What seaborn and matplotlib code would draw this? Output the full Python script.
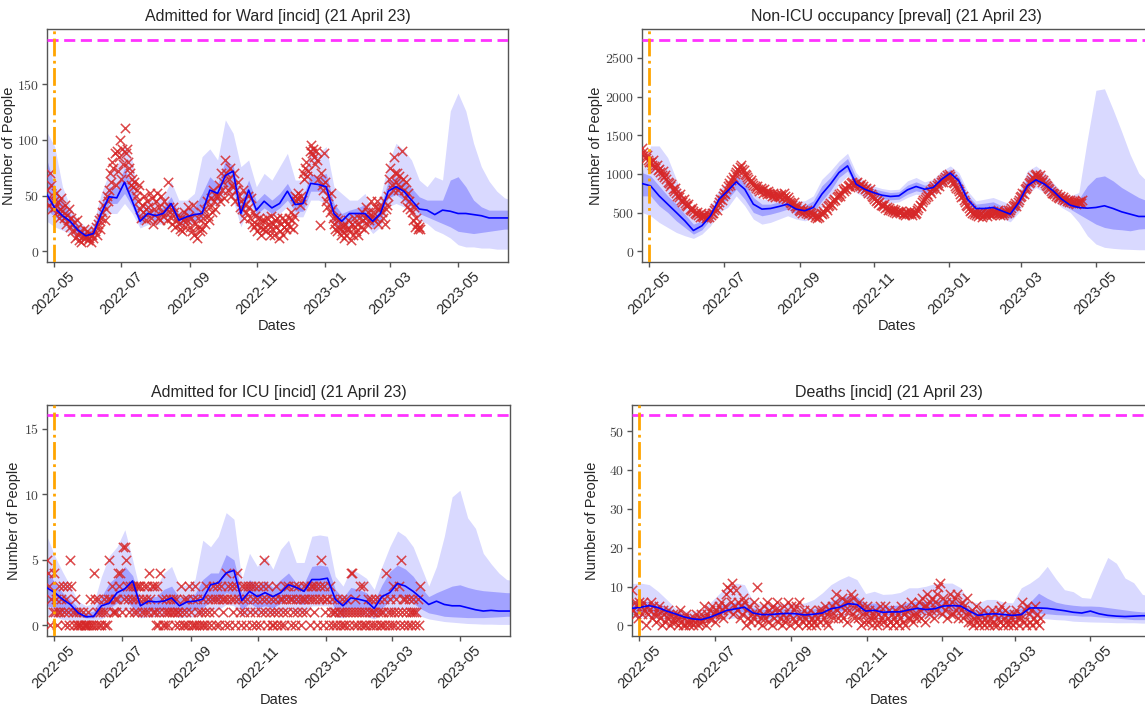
"""
住院预测图 - 四个指标的观测值与模型中位数/置信区间
"""

import numpy as np
import pandas as pd
import matplotlib
matplotlib.use("Agg")
import matplotlib.pyplot as plt
import matplotlib.dates as mdates
import matplotlib.ticker as mticker
import seaborn as sns

# ---------------- 数据 ----------------
BAND_START = "2022-04-25"   # 每周一个点
OBS_START = "2022-04-25"    # 每天一个观测
FORECAST_LINE = "2022-05-01"
X_END = "2023-06-15"

# Admitted for Ward
ward_obs = [
    55, 48, 42, 70, 60, 38, 45,  40, 52, 35, 44, 30, 38, 48,
    36, 30, 42, 25, 33, 28, 38,  22, 30, 18, 26, 12, 20, 28,
    15, 10, 18, 8, 13, 20, 12,  14, 18, 10, 12, 16, 8, 15,
    12, 18, 22, 15, 25, 28, 20,  30, 35, 42, 28, 38, 50, 45,
    55, 70, 62, 80, 75, 88, 60,  90, 72, 85, 100, 65, 92, 78,
    111, 88, 92, 80, 75, 70, 60,  65, 58, 62, 50, 55, 45, 60,
    38, 30, 42, 35, 50, 28, 45,  40, 35, 52, 30, 48, 25, 38,
    45, 52, 30, 40, 28, 50, 35,  32, 45, 38, 28, 62, 40, 35,
    30, 25, 40, 35, 22, 28, 33,  25, 20, 30, 18, 28, 35, 22,
    28, 40, 32, 22, 30, 18, 42,  15, 25, 12, 30, 22, 18, 35,
    20, 30, 38, 25, 45, 32, 28,  40, 48, 35, 55, 45, 38, 50,
    50, 60, 45, 70, 55, 62, 48,  82, 70, 55, 65, 75, 50, 60,
    58, 70, 45, 55, 62, 50, 40,  45, 38, 55, 30, 42, 35, 50,
    40, 30, 48, 25, 35, 22, 32,  25, 18, 30, 22, 15, 28, 20,
    28, 22, 18, 30, 25, 15, 32,  20, 25, 15, 28, 22, 30, 12,
    18, 25, 30, 15, 22, 28, 20,  25, 30, 22, 35, 28, 20, 32,
    50, 45, 48, 52, 42, 50, 46,  70, 65, 75, 80, 68, 72, 90,
    95, 88, 92, 85, 78, 90, 82,  65, 24, 70, 60, 55, 88, 62,
    45, 40, 50, 35, 52, 38, 30,  25, 20, 30, 18, 28, 22, 15,
    18, 22, 12, 25, 15, 20, 28,  20, 10, 25, 15, 30, 22, 18,
    25, 15, 30, 22, 35, 28, 20,  30, 40, 25, 35, 28, 45, 32,
    35, 28, 40, 30, 45, 25, 38,  40, 35, 30, 45, 25, 38, 42,
    50, 65, 75, 60, 55, 85, 70,  62, 70, 55, 68, 58, 90, 65,
    55, 48, 62, 40, 52, 45, 38,  35, 28, 40, 22, 30, 25, 20,
    22, 20,
]
ward_med = [51, 39, 32, 27, 19, 14, 16, 34, 49, 48,
            62, 45, 27, 34, 32, 34, 43, 28, 31, 33,
            34, 55, 52, 68, 72, 34, 55, 37, 45, 39,
            43, 54, 42, 43, 61, 60, 58, 34, 27, 34,
            34, 34, 27, 34, 54, 58, 54, 46, 38, 37,
            33, 37, 36, 34, 34, 33, 32, 30, 30, 30, 30]
ward_hi95 = [107, 94, 58, 40, 28, 22, 25, 52, 70, 76,
             97, 82, 40, 46, 46, 49, 63, 46, 46, 52,
             85, 92, 82, 118, 106, 76, 82, 58, 70, 64,
             76, 88, 64, 64, 94, 88, 94, 58, 52, 46,
             46, 52, 37, 49, 79, 97, 91, 82, 64, 58,
             67, 64, 126, 142, 126, 97, 76, 63, 54, 48, 46]
ward_lo95 = [27, 22, 19, 16, 11, 9, 10, 25, 34, 34,
             43, 34, 21, 24, 24, 25, 31, 22, 24, 25,
             28, 43, 40, 52, 46, 22, 40, 28, 33, 31,
             34, 40, 31, 31, 46, 46, 43, 22, 16, 22,
             24, 25, 16, 22, 40, 43, 40, 34, 28, 25,
             19, 16, 12, 6, 4, 4, 3, 3, 2, 2, 2]
ward_hi50 = [82, 58, 46, 33, 24, 18, 21, 42, 58, 57,
             75, 58, 33, 39, 37, 40, 49, 34, 38, 40,
             52, 67, 60, 82, 77, 46, 64, 45, 52, 46,
             52, 61, 48, 48, 70, 67, 70, 43, 34, 37,
             39, 42, 31, 40, 63, 67, 63, 57, 49, 46,
             46, 46, 64, 67, 58, 46, 40, 37, 37, 37, 37]
ward_lo50 = [37, 31, 27, 22, 15, 12, 13, 30, 43, 43,
             52, 40, 24, 30, 28, 30, 36, 25, 27, 28,
             30, 46, 46, 58, 57, 30, 49, 33, 39, 34,
             39, 46, 36, 36, 54, 54, 52, 28, 21, 28,
             30, 31, 21, 28, 48, 51, 46, 40, 34, 31,
             28, 25, 22, 18, 17, 16, 17, 18, 19, 20, 20]

# Non-ICU occupancy
occ_obs = [
    1330, 1280, 1240, 1200, 1250, 1180, 1160,  1150, 1120, 1180, 1100, 1080, 1120, 1050,
    1060, 1020, 990, 1040, 960, 980, 930,  900, 880, 840, 870, 800, 780, 820,
    760, 720, 700, 740, 660, 640, 680,  620, 600, 580, 610, 550, 530, 560,
    520, 500, 480, 510, 470, 450, 490,  460, 440, 470, 430, 450, 480, 440,
    470, 500, 490, 530, 560, 540, 600,  640, 680, 660, 720, 760, 740, 800,
    840, 880, 860, 920, 960, 940, 1000,  1020, 1060, 1040, 1090, 1110, 1070, 1050,
    1000, 980, 960, 930, 900, 920, 880,  860, 840, 820, 850, 800, 780, 820,
    790, 760, 800, 770, 740, 780, 750,  740, 720, 760, 730, 700, 740, 710,
    720, 700, 740, 690, 760, 720, 680,  700, 660, 640, 620, 600, 640, 580,
    560, 580, 540, 520, 560, 500, 530,  520, 500, 540, 480, 510, 490, 470,
    480, 450, 470, 430, 460, 440, 500,  480, 520, 500, 560, 540, 580, 600,
    620, 600, 650, 680, 660, 700, 720,  740, 720, 760, 800, 780, 820, 800,
    840, 860, 830, 880, 900, 870, 850,  880, 900, 860, 840, 870, 820, 850,
    800, 820, 780, 760, 800, 740, 720,  700, 680, 650, 660, 620, 640, 600,
    600, 580, 610, 560, 570, 540, 560,  540, 520, 550, 510, 530, 500, 520,
    510, 490, 520, 480, 500, 470, 510,  500, 480, 520, 490, 470, 510, 480,
    500, 530, 560, 600, 580, 640, 660,  680, 700, 740, 720, 780, 760, 800,
    820, 840, 800, 860, 880, 850, 900,  920, 900, 940, 960, 980, 950, 1000,
    970, 940, 900, 880, 850, 820, 800,  780, 740, 700, 720, 660, 640, 600,
    580, 560, 520, 540, 500, 480, 510,  470, 490, 460, 480, 500, 450, 470,
    480, 500, 460, 490, 510, 470, 500,  520, 490, 510, 480, 530, 500, 470,
    490, 470, 500, 520, 490, 530, 510,  540, 560, 580, 600, 620, 590, 640,
    660, 700, 720, 760, 740, 800, 820,  840, 880, 900, 920, 960, 940, 980,
    1000, 970, 950, 980, 930, 900, 920,  880, 860, 840, 820, 800, 780, 760,
    760, 740, 720, 740, 700, 690, 710,  680, 700, 660, 680, 650, 670, 640,
    660, 640, 620, 650, 630, 610, 640,  620, 650, 630, 660,
]
occ_med = [876, 846, 717, 610, 503, 395, 270, 331, 460, 674,
           782, 898, 803, 610, 546, 554, 580, 610, 546, 524,
           567, 739, 868, 1018, 1104, 868, 803, 760, 726, 709,
           717, 795, 838, 803, 825, 932, 1010, 911, 674, 554,
           554, 567, 524, 481, 632, 846, 924, 868, 782, 674,
           597, 567, 558, 567, 589, 554, 511, 481, 451, 451, 451]
occ_hi95 = [1018, 1362, 1362, 1211, 932, 653, 460, 481, 589, 803,
            889, 1040, 954, 760, 674, 674, 696, 696, 653, 653,
            717, 932, 1040, 1169, 1267, 1018, 889, 846, 812, 795,
            803, 911, 954, 898, 932, 1040, 1104, 1018, 782, 653,
            674, 696, 653, 610, 760, 1040, 1104, 1018, 889, 769,
            717, 760, 1448, 2080, 2100, 1834, 1550, 1250, 1010, 900, 850]
occ_lo95 = [503, 460, 374, 309, 245, 202, 168, 223, 331, 503,
            567, 717, 589, 417, 352, 374, 417, 460, 417, 395,
            425, 567, 696, 868, 975, 760, 696, 674, 640, 623,
            640, 696, 739, 717, 739, 825, 911, 782, 567, 460,
            468, 468, 425, 382, 503, 739, 825, 760, 674, 567,
            503, 374, 202, 95, 52, 39, 30, 26, 21, 21, 21]
occ_hi50 = [1018, 975, 846, 717, 610, 481, 352, 395, 503, 739,
            825, 975, 889, 696, 610, 610, 640, 653, 610, 589,
            653, 846, 954, 1104, 1199, 954, 855, 812, 782, 760,
            769, 855, 898, 855, 889, 997, 1061, 967, 726, 610,
            623, 640, 589, 554, 709, 954, 1018, 954, 846, 717,
            662, 674, 846, 954, 975, 911, 825, 760, 696, 653, 653]
occ_lo50 = [717, 717, 589, 503, 395, 309, 223, 279, 417, 610,
            674, 803, 674, 503, 460, 481, 511, 546, 481, 468,
            503, 653, 782, 954, 1040, 825, 760, 717, 683, 666,
            674, 739, 782, 760, 769, 868, 954, 846, 623, 503,
            511, 520, 468, 425, 567, 803, 889, 825, 726, 623,
            546, 481, 417, 352, 309, 288, 279, 266, 288, 296, 296]

# Admitted for ICU
icu_obs = [
    5, 4, 3, 0, 2, 1, 4,  1, 2, 0, 1, 3, 1, 2,  3, 1, 0, 2, 3, 1, 0,
    5, 3, 1, 0, 2, 1, 0,  0, 1, 0, 0, 1, 0, 0,  0, 0, 1, 0, 2, 0, 0,
    4, 2, 0, 1, 2, 0, 1,  0, 1, 2, 0, 1, 0, 2,  5, 2, 3, 1, 1, 2, 1,
    2, 4, 3, 4, 1, 6, 2,  6, 5, 3, 2, 1, 3, 2,  3, 1, 2, 3, 1, 3, 2,
    3, 1, 2, 3, 1, 2, 3,  1, 4, 2, 3, 1, 3, 1,  0, 3, 0, 1, 4, 2, 0,
    1, 0, 2, 1, 0, 1, 2,  1, 2, 1, 0, 2, 1, 1,  0, 3, 1, 0, 2, 0, 1,
    2, 0, 3, 1, 0, 2, 0,  3, 0, 2, 1, 0, 1, 0,  2, 0, 1, 3, 0, 2, 1,
    0, 2, 3, 1, 2, 0, 3,  2, 0, 3, 2, 1, 2, 0,  4, 2, 3, 0, 2, 3, 1,
    2, 0, 3, 4, 2, 1, 0,  3, 2, 1, 3, 0, 2, 3,  1, 3, 0, 2, 3, 1, 0,
    2, 3, 0, 1, 2, 3, 5,  1, 2, 0, 3, 1, 2, 0,  0, 1, 2, 3, 0, 1, 2,
    0, 2, 1, 0, 3, 2, 1,  3, 2, 0, 2, 1, 3, 0,  2, 1, 3, 2, 0, 1, 2,
    3, 2, 1, 3, 2, 0, 3,  2, 3, 1, 2, 3, 0, 2,  3, 5, 2, 0, 3, 1, 2,
    2, 0, 3, 1, 2, 0, 1,  1, 0, 2, 1, 0, 1, 2,  0, 1, 0, 2, 1, 0, 1,
    4, 4, 1, 0, 2, 1, 0,  1, 3, 0, 1, 3, 0, 1,  0, 2, 1, 0, 2, 1, 0,
    1, 2, 0, 1, 2, 0, 1,  0, 1, 2, 0, 4, 1, 0,  2, 1, 0, 3, 1, 0, 2,
    1, 3, 0, 5, 1, 2, 0,  2, 1, 0, 2, 1, 0, 1,  2, 1, 0, 1, 2, 0, 3,
]
icu_med = [2.87, 2.5, 2.0, 1.6, 0.96, 0.66, 0.7, 1.5, 1.7, 2.5,
           2.8, 3.4, 1.5, 1.85, 1.8, 1.85, 2.1, 1.5, 1.8, 1.85,
           2.0, 3.1, 3.25, 4.0, 4.2, 1.9, 2.6, 2.2, 2.5, 2.2,
           2.5, 3.1, 2.9, 2.6, 3.5, 3.5, 3.6, 2.0, 1.5, 2.1,
           2.0, 1.85, 1.3, 2.2, 2.5, 3.2, 3.0, 2.6, 2.1, 1.6,
           1.85, 1.6, 1.5, 1.5, 1.35, 1.2, 1.1, 1.15, 1.1, 1.1, 1.1]
icu_hi95 = [6.8, 5.3, 4.1, 3.0, 1.85, 1.5, 1.7, 3.75, 5.3, 6.0,
            7.3, 5.0, 2.5, 3.0, 2.9, 4.0, 4.5, 3.0, 3.1, 3.5,
            6.5, 6.0, 6.8, 8.6, 8.1, 3.5, 5.5, 4.5, 5.3, 4.3,
            5.8, 6.5, 4.8, 4.8, 6.8, 6.9, 6.8, 3.75, 3.0, 4.3,
            4.0, 3.6, 2.75, 4.5, 6.0, 7.2, 6.8, 6.0, 4.5, 3.0,
            4.5, 6.8, 9.8, 10.3, 8.2, 7.4, 5.5, 4.7, 4.0, 3.5, 3.4]
icu_lo95 = [0.7, 0.66, 0.46, 0.4, 0.4, 0.4, 0.4, 0.5, 0.84, 0.96,
            1.2, 0.84, 0.58, 0.66, 0.66, 0.7, 0.84, 0.58, 0.66, 0.66,
            0.84, 1.2, 1.2, 1.6, 1.5, 0.7, 0.96, 0.84, 0.96, 0.84,
            0.96, 1.2, 0.96, 0.96, 1.5, 1.5, 1.5, 0.66, 0.58, 0.84,
            0.76, 0.7, 0.5, 0.84, 1.1, 1.27, 1.2, 0.96, 0.7, 0.5,
            0.4, 0.3, 0.25, 0.2, 0.15, 0.13, 0.1, 0.1, 0.08, 0.08, 0.08]
icu_hi50 = [4.3, 3.25, 2.5, 2.0, 1.35, 0.96, 1.1, 2.2, 3.25, 3.75,
            4.5, 3.8, 1.85, 2.2, 2.2, 2.75, 3.0, 2.1, 2.3, 2.4,
            3.5, 4.0, 4.0, 5.4, 5.0, 2.5, 3.5, 3.0, 3.4, 2.9,
            3.5, 4.0, 3.25, 3.2, 4.5, 4.6, 4.5, 2.75, 2.1, 2.9,
            2.75, 2.5, 1.85, 3.1, 4.1, 4.6, 4.3, 3.75, 2.9, 2.2,
            2.5, 2.75, 3.0, 3.1, 2.9, 2.75, 2.65, 2.6, 2.55, 2.5, 2.5]
icu_lo50 = [1.5, 1.35, 0.96, 0.84, 0.7, 0.58, 0.58, 0.96, 1.35, 1.7,
            2.0, 1.35, 0.96, 1.1, 1.1, 1.2, 1.27, 1.0, 1.1, 1.17,
            1.35, 1.85, 1.85, 2.5, 2.3, 1.2, 1.7, 1.35, 1.5, 1.35,
            1.7, 2.0, 1.7, 1.6, 2.2, 2.3, 2.4, 1.2, 0.96, 1.35,
            1.27, 1.17, 0.84, 1.35, 1.85, 2.2, 2.1, 1.7, 1.27, 0.96,
            0.84, 0.7, 0.66, 0.63, 0.6, 0.6, 0.6, 0.63, 0.66, 0.7, 0.7]

# Deaths
death_obs = [
    9, 4, 6, 3, 5, 2, 6,  5, 3, 6, 4, 0, 5, 3,  4, 6, 2, 5, 3, 1, 4,
    3, 5, 2, 0, 4, 3, 1,  2, 4, 3, 0, 1, 3, 2,  1, 3, 0, 2, 4, 1, 0,
    2, 0, 3, 1, 0, 2, 1,  0, 2, 1, 3, 0, 1, 2,  3, 1, 5, 2, 0, 3, 2,
    4, 2, 5, 3, 1, 4, 3,  5, 3, 6, 4, 2, 5, 8,  10, 4, 9, 6, 11, 3, 5,
    9, 4, 6, 2, 5, 3, 7,  6, 0, 4, 2, 5, 1, 3,  2, 6, 3, 10, 1, 4, 2,
    0, 3, 5, 2, 6, 1, 4,  3, 0, 5, 2, 4, 6, 1,  4, 2, 0, 3, 5, 1, 2,
    6, 3, 0, 5, 2, 4, 1,  5, 0, 6, 2, 3, 1, 4,  2, 0, 3, 1, 4, 0, 2,
    1, 3, 0, 2, 4, 1, 3,  4, 2, 5, 1, 3, 0, 4,  3, 5, 2, 6, 8, 4, 2,
    5, 3, 7, 2, 4, 6, 1,  6, 4, 8, 3, 7, 2, 5,  4, 2, 6, 0, 5, 3, 1,
    3, 5, 1, 4, 2, 0, 3,  2, 4, 0, 3, 1, 5, 2,  1, 3, 5, 0, 2, 4, 1,
    3, 0, 2, 4, 1, 3, 0,  2, 5, 1, 3, 0, 4, 2,  4, 2, 6, 1, 3, 5, 2,
    3, 6, 4, 2, 7, 5, 1,  5, 8, 3, 6, 4, 7, 2,  6, 4, 8, 10, 11, 5, 3,
    7, 4, 6, 2, 5, 8, 3,  6, 3, 7, 4, 8, 2, 5,  4, 6, 2, 5, 3, 7, 1,
    3, 1, 4, 0, 2, 5, 1,  2, 0, 3, 1, 4, 0, 2,  1, 3, 0, 2, 4, 1, 0,
    3, 0, 2, 4, 1, 5, 0,  2, 4, 1, 0, 3, 1, 2,  0, 3, 1, 4, 2, 0, 3,
    2, 6, 1, 4, 0, 5, 3,  1, 4, 0, 2, 5, 1, 3,  0, 2,
]
death_med = [4.4, 4.7, 5.1, 4.6, 3.7, 3.0, 2.2, 1.7, 1.5, 2.1,
             3.0, 3.9, 4.3, 4.7, 3.2, 2.8, 2.8, 3.0, 3.1, 3.0,
             2.7, 2.9, 3.2, 4.3, 4.7, 5.6, 5.4, 3.7, 3.9, 3.4,
             3.5, 3.5, 4.0, 4.4, 4.1, 4.3, 5.0, 5.1, 5.0, 3.7,
             2.6, 2.9, 3.0, 2.8, 2.6, 2.8, 4.5, 4.5, 4.4, 4.1,
             3.8, 3.4, 3.2, 3.7, 3.0, 2.6, 2.4, 2.3, 2.4, 2.5, 2.5]
death_hi95 = [10.8, 10.9, 10.5, 8.8, 6.7, 4.5, 3.7, 3.7, 4.1, 5.8,
              8.0, 10.1, 10.9, 10.5, 6.2, 5.4, 5.4, 5.6, 5.8, 5.6,
              5.8, 6.7, 8.4, 10.5, 11.8, 12.8, 11.8, 8.2, 8.8, 8.0,
              8.1, 8.5, 9.7, 9.7, 10.1, 10.8, 10.9, 10.9, 9.7, 6.2,
              5.8, 6.7, 6.7, 6.0, 5.8, 9.7, 10.9, 12.5, 15.2, 12.0,
              9.2, 8.7, 7.2, 7.0, 12.5, 17.5, 16.0, 12.2, 11.0, 8.0, 7.5]
death_lo95 = [2.0, 2.2, 2.2, 1.7, 1.4, 1.0, 0.85, 0.7, 0.7, 0.85,
              1.4, 1.7, 2.0, 2.2, 1.4, 1.1, 1.1, 1.2, 1.2, 1.2,
              1.1, 1.2, 1.5, 2.0, 2.2, 2.6, 2.4, 1.5, 1.7, 1.5,
              1.5, 1.5, 1.9, 2.0, 2.0, 2.2, 2.4, 2.4, 2.2, 1.4,
              1.0, 1.2, 1.2, 1.0, 1.0, 1.4, 1.9, 1.9, 1.7, 1.5,
              1.4, 1.1, 1.0, 0.9, 0.85, 0.8, 0.7, 0.7, 0.7, 0.6, 0.6]
death_hi50 = [6.0, 6.2, 6.2, 5.6, 4.8, 3.7, 3.0, 2.7, 2.8, 3.7,
              5.0, 5.6, 6.0, 6.0, 4.5, 4.1, 4.1, 4.3, 4.3, 4.1,
              3.9, 4.3, 5.0, 6.2, 7.1, 7.7, 7.4, 5.6, 5.8, 5.1,
              5.1, 5.3, 6.0, 6.2, 6.2, 6.5, 6.7, 6.8, 6.2, 4.5,
              3.9, 4.3, 4.3, 4.1, 3.9, 4.5, 6.0, 8.3, 7.0, 6.0,
              5.5, 5.2, 5.0, 5.0, 4.9, 4.6, 4.3, 4.0, 3.7, 3.5, 3.5]
death_lo50 = [3.2, 3.5, 3.7, 3.2, 2.6, 2.1, 1.7, 1.4, 1.4, 1.7,
              2.6, 3.2, 3.4, 3.6, 2.4, 2.0, 2.0, 2.1, 2.2, 2.0,
              1.9, 2.0, 2.6, 3.2, 3.7, 4.1, 3.9, 2.8, 3.0, 2.6,
              2.6, 2.6, 3.1, 3.2, 3.2, 3.4, 3.7, 3.8, 3.5, 2.4,
              1.9, 2.0, 2.0, 1.9, 1.7, 2.2, 3.2, 3.2, 3.0, 2.8,
              2.7, 2.6, 2.4, 2.4, 2.2, 2.0, 1.9, 1.7, 1.5, 1.5, 1.5]

titles = ["Admitted for Ward [incid] (21 April 23)",
          "Non-ICU occupancy [preval] (21 April 23)",
          "Admitted for ICU [incid] (21 April 23)",
          "Deaths [incid] (21 April 23)"]
capacity = [190, 2735, 16, 54]
y_tick_step = [50, 500, 5, 10]

# ---------------- 样式 ----------------
sns.set_theme(style="white")
plt.rcParams["font.family"] = ["Liberation Sans", "DejaVu Sans"]
plt.rcParams["mathtext.fontset"] = "cm"

OBS_COLOR = "#d62728"
LINE_COLOR = "#0000ff"


def draw_panel(ax, obs, med, lo95, hi95, lo50, hi50, cap, step, title, ylab_x):
    weeks = pd.date_range(BAND_START, periods=len(med), freq="7D")
    days = pd.date_range(OBS_START, periods=len(obs), freq="D")

    ax.fill_between(weeks, lo95, hi95, color="blue", alpha=0.15, linewidth=0)
    ax.fill_between(weeks, lo50, hi50, color="blue", alpha=0.25, linewidth=0)
    sns.scatterplot(x=days, y=obs, ax=ax, marker="x", color=OBS_COLOR,
                    s=45, linewidth=1.1, alpha=0.85, zorder=3)
    sns.lineplot(x=weeks, y=med, ax=ax, color=LINE_COLOR, linewidth=1.2,
                 estimator=None, zorder=4)

    ax.axhline(cap, color="#ff33ff", linestyle=(0, (4, 2)), linewidth=2, zorder=5)
    ax.axvline(pd.Timestamp(FORECAST_LINE), color="orange", linestyle="-.",
               linewidth=2, zorder=5)

    ax.set_xlim(pd.Timestamp(OBS_START), pd.Timestamp(X_END))
    ax.set_ylim(-0.05 * cap, 1.05 * cap)

    ax.xaxis.set_major_locator(mdates.MonthLocator(bymonth=[1, 3, 5, 7, 9, 11]))
    ax.xaxis.set_major_formatter(mdates.DateFormatter("%Y-%m"))
    ax.yaxis.set_major_locator(mticker.MultipleLocator(step))
    ax.yaxis.set_major_formatter(mticker.FuncFormatter(lambda v, p: f"${v:.0f}$"))
    for lab in ax.get_xticklabels():
        lab.set_rotation(45)
        lab.set_fontsize(10.5)
    ax.tick_params(axis="y", labelsize=10, labelcolor="#444444")
    ax.tick_params(direction="out", length=3.5, width=1, pad=2,
                   color="#555555", left=True, bottom=True)
    for sp in ax.spines.values():
        sp.set_color("#555555")
        sp.set_linewidth(1.0)

    ax.set_title(title, fontsize=11.5)
    ax.set_xlabel("Dates", fontsize=10.5, labelpad=1)
    ax.set_ylabel("Number of People", fontsize=10.5)
    ax.yaxis.set_label_coords(ylab_x, 0.5)


def main():
    fig = plt.figure(figsize=(11.45, 7.09), dpi=100)
    # 右侧两幅图略微超出画布右边缘（与原图一致）
    positions = [
        [0.0410, 0.6305, 0.4026, 0.3286],
        [0.5607, 0.6305, 0.4445, 0.3286],
        [0.0410, 0.1030, 0.4044, 0.3258],
        [0.5520, 0.1030, 0.4489, 0.3258],
    ]
    ylabel_x = [-0.067, -0.076, -0.056, -0.064]
    series = [
        (ward_obs, ward_med, ward_lo95, ward_hi95, ward_lo50, ward_hi50),
        (occ_obs, occ_med, occ_lo95, occ_hi95, occ_lo50, occ_hi50),
        (icu_obs, icu_med, icu_lo95, icu_hi95, icu_lo50, icu_hi50),
        (death_obs, death_med, death_lo95, death_hi95, death_lo50, death_hi50),
    ]
    for pos, data, cap, step, title, yx in zip(positions, series, capacity,
                                               y_tick_step, titles, ylabel_x):
        ax = fig.add_axes(pos)
        draw_panel(ax, *data, cap, step, title, yx)

    fig.savefig("out.png", dpi=100)


if __name__ == "__main__":
    main()
